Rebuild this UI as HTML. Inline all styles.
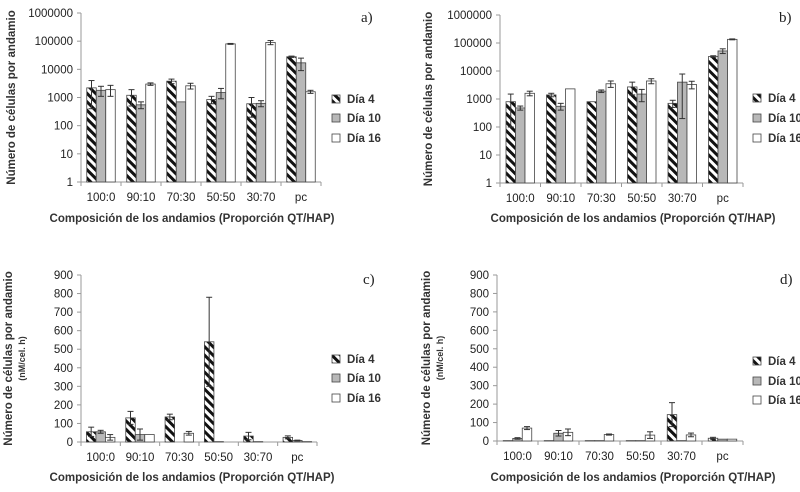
<!DOCTYPE html>
<html><head><meta charset="utf-8">
<style>
body{margin:0;background:#fff;}
svg{display:block;font-family:"Liberation Sans",sans-serif;}
</style></head>
<body>
<svg id="fig" width="800" height="492" viewBox="0 0 800 492" xmlns="http://www.w3.org/2000/svg">
<defs>
<pattern id="hatch" patternUnits="userSpaceOnUse" width="6" height="6" patternTransform="rotate(-45)">
<rect width="6" height="6" fill="#fff"/><rect width="3" height="6" fill="#111"/>
</pattern>
</defs>
</svg>
<script>
const categories = ["100:0","90:10","70:30","50:50","30:70","pc"];
const seriesNames = ["Día 4","Día 10","Día 16"];
const aDia4 = [2200,1200,3800,850,600,28000];
const aDia10 = [1800,550,700,1500,620,17000];
const aDia16 = [1900,3000,2600,80000,90000,1600];
const aErr4 = [1800,700,700,250,400,1500];
const aErr10 = [700,150,0,600,150,8000];
const aErr16 = [800,300,600,3000,15000,200];
const bDia4 = [800,1400,800,2700,700,33000];
const bDia10 = [480,550,1900,1500,4000,52000];
const bDia16 = [1600,2300,3500,4400,3300,135000];
const bErr4 = [700,200,0,1300,200,2000];
const bErr10 = [80,150,200,700,3800,10000];
const bErr16 = [300,0,900,900,1000,5000];
const cDia4 = [55,130,135,540,32,25];
const cDia10 = [55,40,0,2,2,8];
const cDia16 = [25,40,47,0,0,2];
const cErr4 = [25,35,15,240,20,8];
const cErr10 = [8,30,0,0,0,2];
const cErr16 = [15,0,10,0,0,0];
const dDia4 = [2,2,2,2,143,15];
const dDia10 = [14,42,2,2,2,10];
const dDia16 = [70,47,35,32,33,10];
const dErr4 = [0,0,0,0,65,5];
const dErr10 = [4,15,0,0,0,0];
const dErr16 = [8,18,3,18,10,0];
const logTicks = [1,10,100,1000,10000,100000,1000000];
const linTicks = [0,100,200,300,400,500,600,700,800,900];

const NS="http://www.w3.org/2000/svg";
const svg=document.getElementById('fig');
function el(tag,attrs,parent,text){const e=document.createElementNS(NS,tag);for(const k in attrs)e.setAttribute(k,attrs[k]);if(text!==undefined)e.textContent=text;(parent||svg).appendChild(e);return e;}

function panel(p){
  const g=el('g',{});
  
  
  const W=(p.x1-p.x0)/categories.length;
  let yScale;
  if(p.log){yScale=v=>p.yb-(Math.log10(Math.max(v,1))/6)*(p.yb-p.yt);}
  else{yScale=v=>p.yb-(v/900)*(p.yb-p.yt);}
  const ticks=p.log?logTicks:linTicks;
  const ya=el('line',{x1:p.x0,y1:p.yt,x2:p.x0,y2:p.yb,stroke:'#999','stroke-width':1},g);
  
  ticks.forEach(t=>{
    const y=yScale(t);
    el('line',{x1:p.x0-4,y1:y,x2:p.x0,y2:y,stroke:'#999'},g);
    const tl=el('text',{x:p.x0-8,y:y+4,'text-anchor':'end','font-size':11.5,fill:'#222'},g,String(t));
    
  });
  const xa=el('line',{x1:p.x0,y1:p.yb,x2:p.x1,y2:p.yb,stroke:'#999'},g);
  
  for(let i=0;i<=categories.length;i++){el('line',{x1:p.x0+i*W,y1:p.yb,x2:p.x0+i*W,y2:p.yb+4,stroke:'#999'},g);}
  const bw=9.5;
  const fills=['url(#hatch)','#b8b8b8','#fff'];
  categories.forEach((c,i)=>{
    const cx=p.x0+(i+0.5)*W;
    const xl=el('text',{x:cx,y:p.yb+19,'text-anchor':'middle','font-size':11.5,fill:'#222'},g,c);
    
    p.series.forEach((s,j)=>{
      const v=s[i];const x=cx-1.5*bw+j*bw;const y=yScale(v);
      const r=el('rect',{x:x,y:y,width:bw,height:Math.max(p.yb-y,0),fill:fills[j],stroke:'#444','stroke-width':0.8},g);
      
      
      const e=p.errs[j][i];
      if(e>0){
        const yu=yScale(v+e), yd=yScale(Math.max(v-e,p.log?1:0));
        const m=x+bw/2;
        el('line',{x1:m,y1:yu,x2:m,y2:yd,stroke:'#333','stroke-width':1},g);
        el('line',{x1:m-3,y1:yu,x2:m+3,y2:yu,stroke:'#333'},g);
        el('line',{x1:m-3,y1:yd,x2:m+3,y2:yd,stroke:'#333'},g);
      }
    });
  });
  const lg=el('g',{},g);
  
  p.ly.forEach((ly,j)=>{
    el('rect',{x:p.lx,y:ly-4,width:8,height:8,fill:fills[j],stroke:'#444','stroke-width':0.8},lg);
    const t=el('text',{x:p.lx+15,y:ly+4,'font-size':11.5,'font-weight':'bold',fill:'#333'},lg,seriesNames[j]);
    
  });
  const pl=el('text',{x:p.labx,y:p.laby,'font-size':15,'font-family':'Liberation Serif, serif',fill:'#222'},g,p.id+')');
  
  const xt=el('text',{x:p.xtx,y:p.xty,'text-anchor':'middle','font-size':11.5,'font-weight':'bold',fill:'#333'},g,'Composición de los andamios (Proporción QT/HAP)');
  
  const ymid=(p.yt+p.yb)/2;
  const yt=el('text',{x:p.ytx,y:ymid,'text-anchor':'middle','font-size':11.5,'font-weight':'bold',fill:'#333',transform:`rotate(-90 ${p.ytx} ${ymid})`},g,'Número de células por andamio');
  
  if(!p.log){
    const x2=p.ytx+13;
    const yt2=el('text',{x:x2,y:ymid,'text-anchor':'middle','font-size':9,'font-weight':'bold',fill:'#333',transform:`rotate(-90 ${x2} ${ymid})`},g,'(nM/cel. h)');
    
  }
}
panel({id:'a',log:true,x0:81,x1:321,yt:13,yb:182,series:[aDia4,aDia10,aDia16],errs:[aErr4,aErr10,aErr16],lx:332,ly:[99,118,138],labx:361,laby:22,xtx:192,xty:222,ytx:15});
panel({id:'b',log:true,x0:500,x1:743,yt:15,yb:183,series:[bDia4,bDia10,bDia16],errs:[bErr4,bErr10,bErr16],lx:753,ly:[98,118,138],labx:779,laby:22,xtx:633,xty:222,ytx:432});
panel({id:'c',log:false,x0:81,x1:317,yt:275,yb:442,series:[cDia4,cDia10,cDia16],errs:[cErr4,cErr10,cErr16],lx:332,ly:[359,378,398],labx:363,laby:284,xtx:192,xty:481,ytx:12});
panel({id:'d',log:false,x0:497,x1:743,yt:275,yb:441,series:[dDia4,dDia10,dDia16],errs:[dErr4,dErr10,dErr16],lx:753,ly:[361,381,400],labx:780,laby:284,xtx:633,xty:481,ytx:430});
</script>
</body></html>
